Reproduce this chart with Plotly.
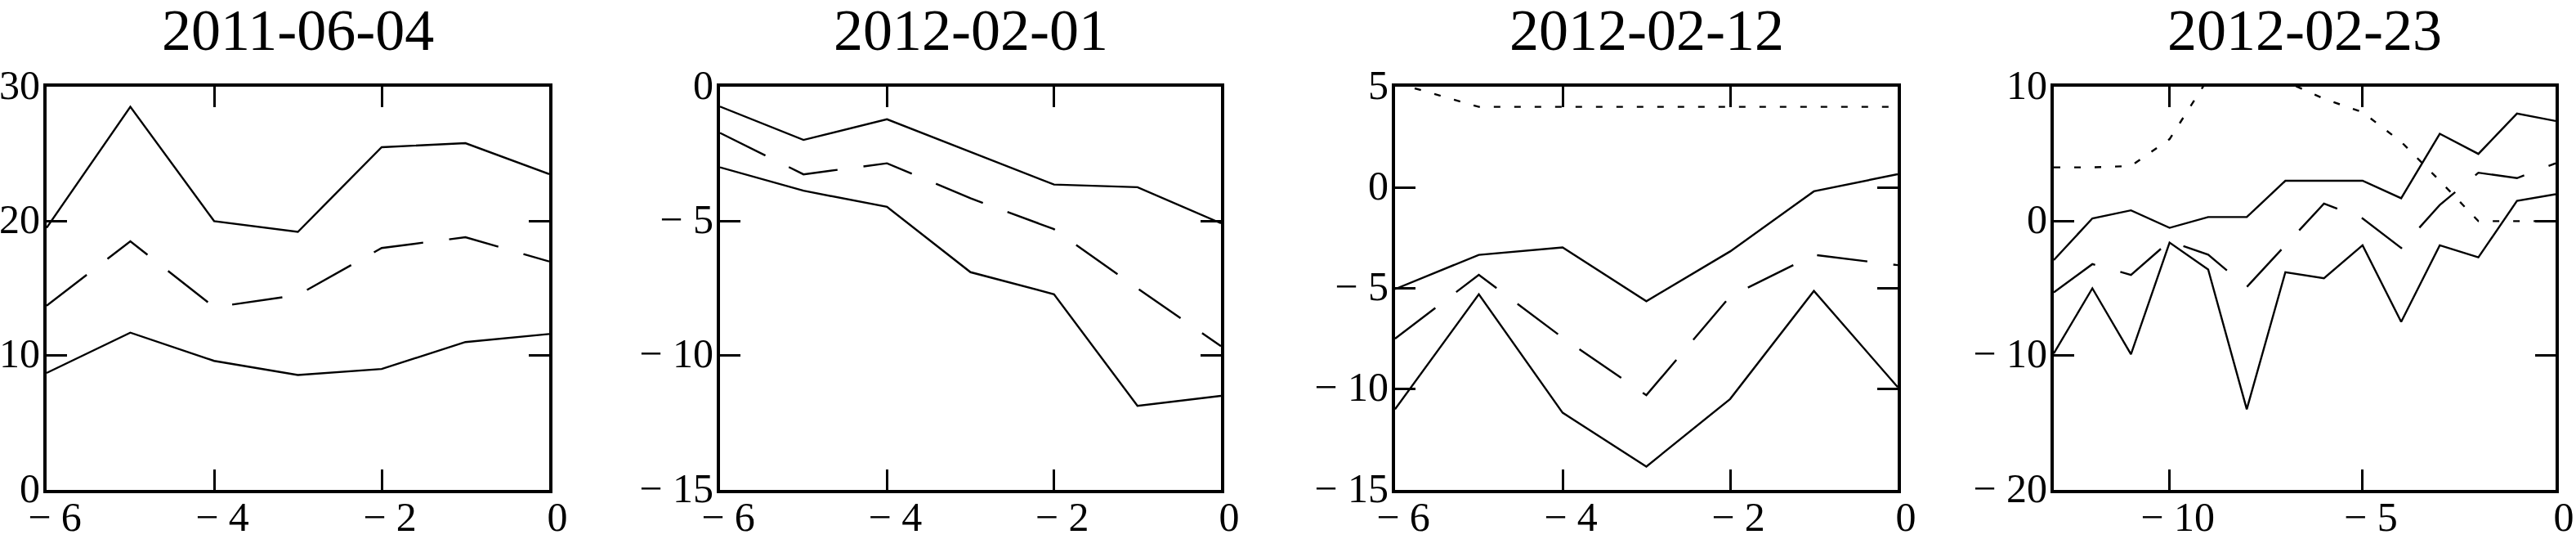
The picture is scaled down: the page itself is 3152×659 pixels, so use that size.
import plotly.graph_objects as go

# ---------------- data ----------------
dates = ["2011-06-04", "2012-02-01", "2012-02-12", "2012-02-23"]

x_p1 = [-6, -5, -4, -3, -2, -1, 0]
p1_upper = [19.5, 28.5, 20.0, 19.2, 25.5, 25.8, 23.5]
p1_mid = [13.7, 18.5, 13.6, 14.5, 18.0, 18.8, 17.0]
p1_lower = [8.7, 11.7, 9.6, 8.55, 9.0, 11.0, 11.6]

x_p2 = [-6, -5, -4, -3, -2, -1, 0]
p2_upper = [-0.74, -1.98, -1.21, -2.43, -3.64, -3.74, -5.08]
p2_mid = [-1.72, -3.26, -2.85, -4.15, -5.3, -7.5, -9.65]
p2_lower = [-3.0, -3.87, -4.47, -6.9, -7.72, -11.87, -11.5]

x_p3 = [-6, -5, -4, -3, -2, -1, 0]
p3_dot = [5.2, 4.0, 4.0, 4.0, 4.0, 4.0, 4.0]
p3_upper = [-5.04, -3.34, -2.97, -5.64, -3.17, -0.19, 0.66]
p3_mid = [-7.5, -4.33, -7.45, -10.3, -5.4, -3.34, -3.85]
p3_lower = [-11.0, -5.3, -11.17, -13.84, -10.49, -5.13, -9.9]

x_p4 = [-13, -12, -11, -10, -9, -8, -7, -6, -5, -4, -3, -2, -1, 0]
p4_dot = [4.0, 4.0, 4.1, 6.1, 10.6, 11.0, 10.4, 9.1, 8.1, 5.9, 3.0, 0.0, 0.0, 0.0]
p4_upper = [-2.9, 0.2, 0.8, -0.5, 0.3, 0.3, 3.0, 3.0, 3.0, 1.7, 6.5, 5.0, 8.0, 7.45]
p4_mid = [-5.3, -3.2, -4.0, -1.5, -2.5, -4.9, -1.8, 1.3, 0.2, -2.0, 1.2, 3.6, 3.2, 4.3]
p4_lower = [-9.85, -5.0, -9.9, -1.6, -3.6, -14.0, -3.8, -4.25, -1.8, -7.5, -1.8, -2.7, 1.5, 2.0]

x_ranges = [[-6, 0], [-6, 0], [-6, 0], [-13, 0]]
y_ranges = [[0, 30], [-15, 0], [-15, 5], [-20, 10]]

x_tickvals = [[-6, -4, -2, 0], [-6, -4, -2, 0], [-6, -4, -2, 0], [-10, -5, 0]]
x_ticktext = [["\u2212 6", "\u2212 4", "\u2212 2", "0"],
              ["\u2212 6", "\u2212 4", "\u2212 2", "0"],
              ["\u2212 6", "\u2212 4", "\u2212 2", "0"],
              ["\u2212 10", "\u2212 5", "0"]]
y_tickvals = [[0, 10, 20, 30], [-15, -10, -5, 0], [-15, -10, -5, 0, 5], [-20, -10, 0, 10]]
y_ticktext = [["0", "10", "20", "30"],
              ["\u2212 15", "\u2212 10", "\u2212 5", "0"],
              ["\u2212 15", "\u2212 10", "\u2212 5", "0", "5"],
              ["\u2212 20", "\u2212 10", "0", "10"]]

# ---------------- layout geometry ----------------
W, H = 3152, 659
panel_px = [(57, 672), (881, 1494), (1707, 2322), (2513, 3127)]
top_px, bot_px = 106, 599

FONT = "Liberation Serif, Times New Roman, serif"
SOLID = "solid"
DASH = "62px,32px"
DOT = "8px,17px"

panels = [
    (x_p1, [(p1_upper, SOLID), (p1_mid, DASH), (p1_lower, SOLID)]),
    (x_p2, [(p2_upper, SOLID), (p2_mid, DASH), (p2_lower, SOLID)]),
    (x_p3, [(p3_dot, DOT), (p3_upper, SOLID), (p3_mid, DASH), (p3_lower, SOLID)]),
    (x_p4, [(p4_dot, DOT), (p4_upper, SOLID), (p4_mid, DASH), (p4_lower, SOLID)]),
]

fig = go.Figure()
annotations = []
for i, (xs, series) in enumerate(panels):
    n = "" if i == 0 else str(i + 1)
    for ys, dash in series:
        fig.add_trace(go.Scatter(
            x=xs, y=ys, mode="lines",
            line=dict(color="black", width=2.4, dash=dash),
            xaxis="x" + n, yaxis="y" + n, showlegend=False, hoverinfo="skip",
        ))
    l, r = panel_px[i]
    common = dict(showline=True, linecolor="black", linewidth=4, mirror="ticks",
                  ticks="inside", ticklen=25, tickwidth=3, tickcolor="black",
                  showgrid=False, zeroline=False, automargin=False,
                  tickfont=dict(family=FONT, size=50, color="black"))
    fig.layout["xaxis" + n] = dict(
        domain=[l / W, r / W], range=x_ranges[i], anchor="y" + n,
        tickmode="array", tickvals=x_tickvals[i], ticktext=x_ticktext[i],
        ticklabelshift=10, ticklabelstandoff=-14, **common)
    fig.layout["yaxis" + n] = dict(
        domain=[1 - bot_px / H, 1 - top_px / H], range=y_ranges[i], anchor="x" + n,
        tickmode="array", tickvals=y_tickvals[i], ticktext=y_ticktext[i],
        ticklabelshift=-3, ticklabelstandoff=-6, **common)
    annotations.append(dict(
        text=dates[i], xref="paper", yref="paper",
        x=(l + r) / 2 / W, y=1 + 5 / H, xanchor="center", yanchor="top",
        showarrow=False, font=dict(family=FONT, size=72, color="black")))

fig.update_layout(
    width=W, height=H, margin=dict(l=0, r=0, t=0, b=0, pad=0, autoexpand=False),
    paper_bgcolor="white", plot_bgcolor="white",
    annotations=annotations,
)

fig.write_html(
    "out.html",
    config={"displayModeBar": False, "staticPlot": True},
    post_script="document.body.style.margin='0';document.body.style.overflow='hidden';",
)
